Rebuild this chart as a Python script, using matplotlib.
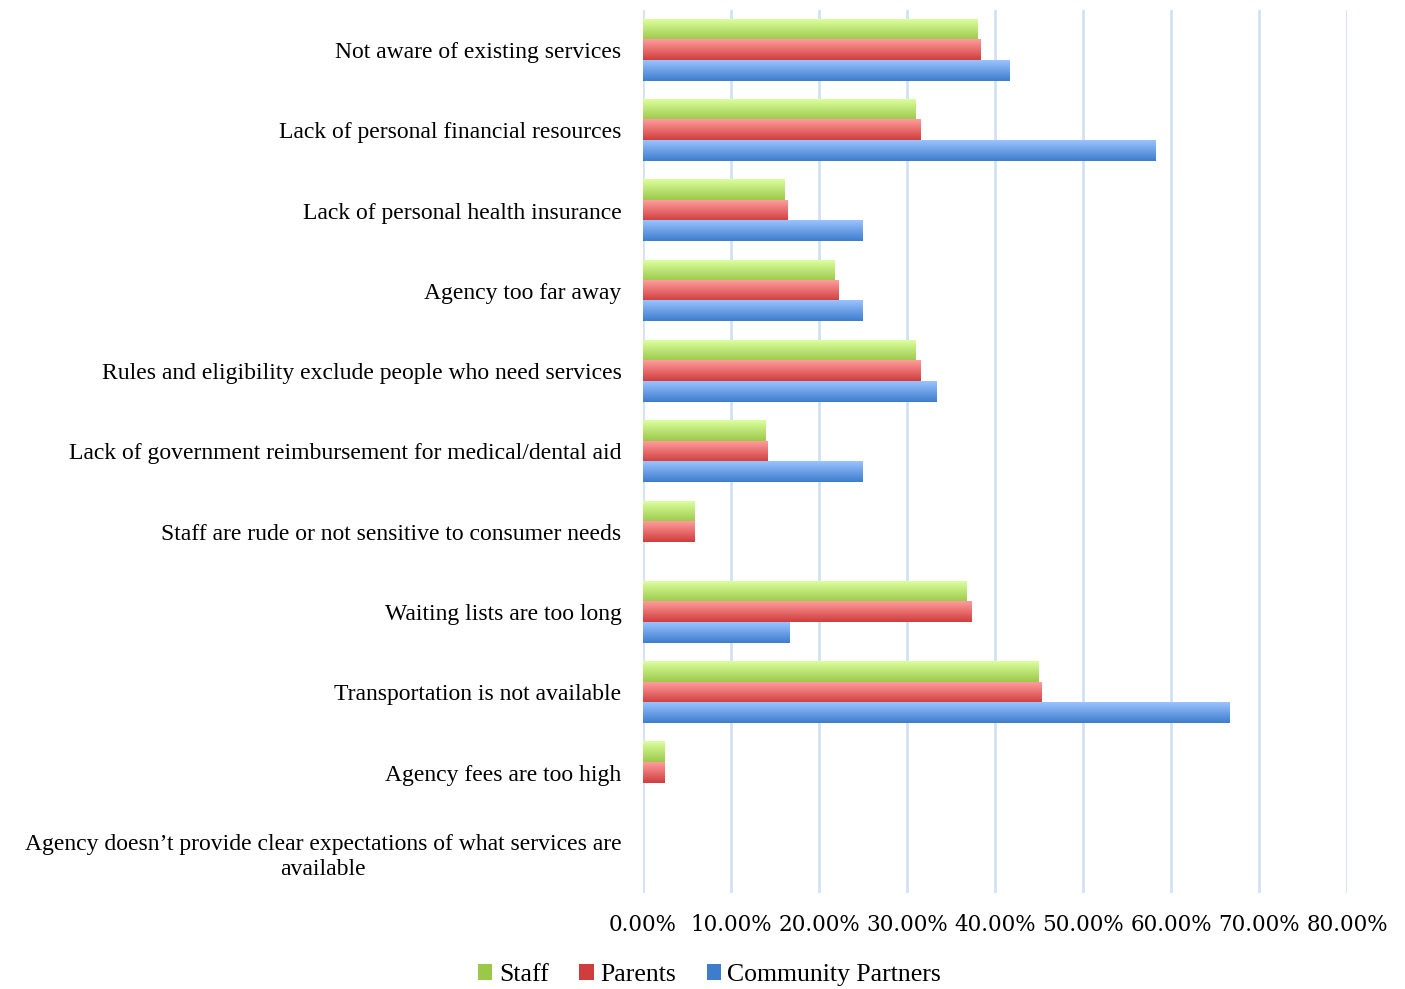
import numpy as np
import matplotlib
matplotlib.use("Agg")
import matplotlib.pyplot as plt
from matplotlib.colors import to_rgb
from matplotlib.patches import Patch

categories = [
    "Not aware of existing services",
    "Lack of personal financial resources",
    "Lack of personal health insurance",
    "Agency too far away",
    "Rules and eligibility exclude people who need services",
    "Lack of government reimbursement for medical/dental aid",
    "Staff are rude or not sensitive to consumer needs",
    "Waiting lists are too long",
    "Transportation is not available",
    "Agency fees are too high",
    "Agency doesn\u2019t provide clear expectations of what services are\navailable",
]
staff = [38.0, 31.0, 16.1, 21.8, 31.0, 13.9, 5.8, 36.8, 44.9, 2.4, 0.0]
parents = [38.4, 31.5, 16.4, 22.2, 31.5, 14.1, 5.9, 37.3, 45.3, 2.4, 0.0]
community = [41.7, 58.3, 25.0, 25.0, 33.3, 25.0, 0.0, 16.7, 66.7, 0.0, 0.0]
series_names = ["Staff", "Parents", "Community Partners"]
xticks = [0, 10, 20, 30, 40, 50, 60, 70, 80]

# light (top) -> dark (bottom) for each series
grads = [("#dcff9e", "#9cc84a"), ("#ff9d9d", "#d03d3d"), ("#9bc3ff", "#3d7dcc")]

fig = plt.figure(figsize=(14.05, 9.89), dpi=100)
ax = fig.add_axes([0.4577, 0.097, 0.501, 0.893])

y = np.arange(len(categories))
h = 0.253
offsets = [-h, 0, h]
for vals, off, (c1, c2) in zip([staff, parents, community], offsets, grads):
    bars = ax.barh(y + off, vals, height=h, color="none", zorder=3)
    g = np.linspace(0, 1, 64)[:, None, None]
    img = (1 - g) * np.array(to_rgb(c1)) + g * np.array(to_rgb(c2))
    for b in bars:
        x0 = b.get_x()
        w = b.get_width()
        if w <= 0:
            continue
        y0 = b.get_y()
        ax.imshow(img, extent=(x0, x0 + w, y0 + h, y0), origin="upper",
                  aspect="auto", zorder=3, interpolation="bilinear")

ax.set_xlim(0, 80)
ax.set_ylim(len(categories) - 0.5, -0.5)
ax.set_xticks(xticks)
ax.set_xticklabels([f"{t:.2f}%" for t in xticks], family="DejaVu Serif",
                   fontsize=15.5)
ax.set_yticks(y)
ax.set_yticklabels(categories, family="Liberation Serif", fontsize=17,
                   multialignment="center")
ax.tick_params(axis="both", length=0)
ax.tick_params(axis="y", pad=15.5)
ax.tick_params(axis="x", pad=15)
ax.grid(axis="x", color="#d3e1f2", linewidth=2, zorder=0)
for s in ax.spines.values():
    s.set_visible(False)

handles = [Patch(facecolor=c2, edgecolor="none") for _, c2 in grads]
fig.legend(handles, series_names, loc="center", bbox_to_anchor=(0.505, 0.014),
           ncol=3, frameon=False, prop={"family": "Liberation Serif", "size": 18.5},
           handlelength=0.55, handleheight=0.55, handletextpad=0.25,
           columnspacing=1.2)

fig.savefig("out.png", dpi=100)
